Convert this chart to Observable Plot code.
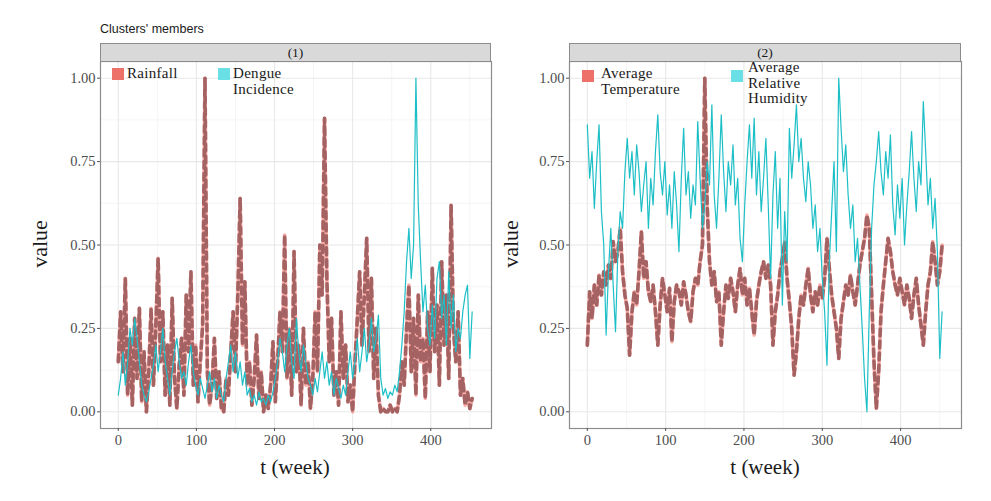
<!DOCTYPE html>
<html><head><meta charset="utf-8">
<script src="https://cdn.jsdelivr.net/npm/d3@7"></script>
<script src="https://cdn.jsdelivr.net/npm/@observablehq/plot@0.6"></script>
<style>
body{margin:0;background:#fff;}
#wrap{position:relative;width:991px;height:501px;overflow:hidden;font-family:"Liberation Serif",serif;color:#1a1a1a;}
.abs{position:absolute;}
.title{left:100px;top:22px;font-family:"Liberation Sans",Arial,sans-serif;font-size:12.5px;color:#1a1a1a;}
.strip{top:43px;height:19px;background:#d9d9d9;border:1px solid #8c8c8c;box-sizing:border-box;text-align:center;font-size:13.5px;line-height:17px;color:#1a1a1a;}
.key{width:12px;height:12px;}
.lt{font-size:15px;white-space:nowrap;color:#1a1a1a;letter-spacing:0.3px;}
.xt{top:455px;width:240px;text-align:center;font-size:21px;color:#1a1a1a;}
.yt{font-size:22px;transform:rotate(-90deg);transform-origin:center;width:80px;text-align:center;color:#1a1a1a;}
svg{position:absolute;top:0;}
</style>
</head><body>
<div id="wrap">
  <div class="abs title">Clusters' members</div>
</div>
<script>
// weeks sampled every 3 weeks
const weeks = d3.range(0, 454, 3);

const rainfall = [0.15,0.30,0.12,0.40,0.05,0.22,0.02,0.28,0.10,0.31,0.03,0.18,0.00,0.12,0.31,0.08,0.25,0.46,0.15,0.30,
0.05,0.20,0.02,0.34,0.10,0.01,0.14,0.22,0.05,0.35,0.18,0.42,0.08,0.20,0.03,0.15,0.26,1.00,0.12,0.02,
0.08,0.22,0.04,0.12,0.01,0.00,0.10,0.05,0.18,0.30,0.12,0.35,0.64,0.20,0.39,0.08,0.15,0.02,0.10,0.23,
0.04,0.12,0.00,0.05,0.01,0.08,0.21,0.03,0.15,0.30,0.18,0.53,0.10,0.25,0.05,0.48,0.12,0.20,0.02,0.25,
0.08,0.15,0.01,0.10,0.30,0.12,0.50,0.35,0.88,0.40,0.15,0.28,0.05,0.12,0.02,0.30,0.10,0.20,0.03,0.08,
0.00,0.15,0.28,0.42,0.20,0.35,0.52,0.18,0.40,0.10,0.25,0.05,0.00,0.01,0.00,0.00,0.02,0.00,0.01,0.00,
0.05,0.15,0.08,0.25,0.38,0.12,0.28,0.05,0.35,0.15,0.22,0.04,0.30,0.12,0.43,0.18,0.32,0.08,0.45,0.20,
0.35,0.10,0.62,0.25,0.15,0.30,0.05,0.10,0.02,0.06,0.01,0.04];

const dengue = [0.05,0.10,0.18,0.08,0.15,0.25,0.20,0.28,0.22,0.15,0.08,0.05,0.03,0.06,0.10,0.14,0.20,0.12,0.18,0.25,
0.15,0.10,0.05,0.12,0.18,0.22,0.15,0.10,0.12,0.08,0.15,0.20,0.12,0.08,0.05,0.10,0.07,0.04,0.08,0.12,
0.06,0.10,0.04,0.08,0.05,0.03,0.10,0.15,0.20,0.12,0.18,0.10,0.15,0.08,0.12,0.05,0.07,0.03,0.05,0.02,
0.06,0.03,0.04,0.02,0.05,0.03,0.06,0.10,0.15,0.22,0.18,0.12,0.20,0.25,0.15,0.10,0.28,0.18,0.12,0.20,
0.15,0.10,0.08,0.05,0.10,0.06,0.12,0.18,0.10,0.15,0.08,0.12,0.05,0.10,0.07,0.04,0.08,0.05,0.12,0.18,
0.10,0.15,0.22,0.12,0.18,0.25,0.15,0.20,0.28,0.18,0.22,0.29,0.10,0.05,0.07,0.04,0.06,0.05,0.08,0.06,
0.12,0.20,0.30,0.45,0.55,0.40,0.50,1.00,0.62,0.45,0.30,0.38,0.25,0.20,0.32,0.22,0.40,0.45,0.28,0.35,
0.20,0.42,0.25,0.35,0.18,0.25,0.22,0.30,0.35,0.38,0.16,0.30];

const temperature = [0.20,0.36,0.28,0.38,0.32,0.41,0.35,0.42,0.38,0.44,0.40,0.51,0.45,0.48,0.55,0.42,0.35,0.31,0.17,0.30,
0.36,0.32,0.42,0.54,0.40,0.45,0.36,0.33,0.38,0.30,0.20,0.32,0.40,0.35,0.30,0.37,0.21,0.33,0.38,0.36,
0.32,0.39,0.35,0.30,0.27,0.36,0.40,0.38,0.45,0.50,1.00,0.62,0.45,0.38,0.42,0.33,0.36,0.20,0.30,0.38,
0.34,0.40,0.36,0.30,0.38,0.43,0.35,0.40,0.32,0.37,0.30,0.23,0.33,0.38,0.42,0.45,0.40,0.44,0.38,0.20,
0.30,0.35,0.42,0.46,0.51,0.40,0.33,0.25,0.11,0.18,0.28,0.35,0.32,0.38,0.43,0.35,0.30,0.36,0.32,0.38,
0.34,0.40,0.52,0.43,0.35,0.30,0.25,0.16,0.28,0.33,0.38,0.35,0.41,0.36,0.32,0.38,0.44,0.48,0.52,0.59,
0.55,0.35,0.15,0.01,0.12,0.30,0.38,0.45,0.52,0.48,0.42,0.38,0.35,0.40,0.36,0.32,0.38,0.34,0.28,0.35,
0.40,0.32,0.26,0.20,0.30,0.38,0.42,0.51,0.45,0.38,0.42,0.50];

const humidity = [0.86,0.70,0.78,0.61,0.75,0.86,0.60,0.50,0.23,0.42,0.55,0.38,0.24,0.48,0.60,0.55,0.72,0.82,0.70,0.78,
0.65,0.80,0.72,0.60,0.68,0.75,0.55,0.70,0.62,0.78,0.89,0.72,0.65,0.75,0.59,0.68,0.55,0.72,0.62,0.48,
0.70,0.85,0.65,0.72,0.58,0.68,0.62,0.87,0.70,0.55,0.62,0.75,0.68,0.92,0.65,0.55,0.70,0.89,0.72,0.60,
0.75,0.68,0.80,0.62,0.70,0.52,0.45,0.62,0.75,0.86,0.70,0.88,0.65,0.78,0.60,0.70,0.82,0.62,0.40,0.65,
0.78,0.55,0.70,0.32,0.60,0.45,0.85,0.70,0.80,0.92,0.75,0.82,0.70,0.63,0.75,0.68,0.55,0.62,0.48,0.55,
0.40,0.30,0.14,0.45,0.60,0.75,0.48,1.00,0.85,0.72,0.80,0.65,0.55,0.62,0.45,0.52,0.38,0.25,0.10,0.00,
0.30,0.55,0.68,0.75,0.84,0.72,0.65,0.78,0.70,0.83,0.62,0.53,0.68,0.58,0.70,0.50,0.62,0.72,0.84,0.70,
0.60,0.75,0.68,0.93,0.78,0.62,0.70,0.55,0.64,0.48,0.16,0.30];

const xTicks = [0, 100, 200, 300, 400];
const xMinor = [50, 150, 250, 350, 450];
const yTicks = [0, 0.25, 0.5, 0.75, 1];
const yMinor = [0.125, 0.375, 0.625, 0.875];

const panelLabels = ["(1)", "(2)"];
const seriesNames = [["Rainfall", "Dengue\nIncidence"], ["Average\nTemperature", "Average\nRelative\nHumidity"]];

const rows = vals => vals.map((v, i) => ({t: weeks[i], v}));

const SALMON = "#F8766D", DASH = "#9a5a5c", CYAN = "#1DBFC7";

function panel(redVals, cyanVals, width, ml, mr) {
  const red = rows(redVals), cyan = rows(cyanVals);
  return Plot.plot({
    width, height: 501,
    marginLeft: ml, marginRight: mr, marginTop: 61, marginBottom: 73,
    x: {domain: [-22.75, 477.75], axis: null},
    y: {domain: [-0.05, 1.05], axis: null},
    style: {fontFamily: "Liberation Serif", fontSize: "14.5px", color: "#4d4d4d", background: "transparent", overflow: "visible"},
    marks: [
      Plot.gridX(xMinor, {stroke: "#f3f3f3", strokeOpacity: 1, strokeWidth: 0.8}),
      Plot.gridY(yMinor, {stroke: "#f3f3f3", strokeOpacity: 1, strokeWidth: 0.8}),
      Plot.gridX(xTicks, {stroke: "#e8e8e8", strokeOpacity: 1, strokeWidth: 1.1}),
      Plot.gridY(yTicks, {stroke: "#e8e8e8", strokeOpacity: 1, strokeWidth: 1.1}),
      Plot.line(red, {x: "t", y: "v", stroke: SALMON, strokeWidth: 3.6, strokeOpacity: 0.6}),
      Plot.line(red, {x: "t", y: "v", stroke: DASH, strokeWidth: 3.6, strokeOpacity: 0.9, strokeDasharray: "7,5"}),
      Plot.line(cyan, {x: "t", y: "v", stroke: CYAN, strokeWidth: 1.2}),
      Plot.frame({stroke: "#8c8c8c", strokeWidth: 1.2}),
      Plot.axisX(xTicks, {tickSize: 3, tickPadding: 3, label: null, fontSize: 14.5, stroke: "#555"}),
      Plot.axisY(yTicks, {tickSize: 3, tickPadding: 2, label: null, fontSize: 14.5, tickFormat: d3.format(".2f"), stroke: "#555"})
    ]
  });
}

const wrap = document.getElementById("wrap");
const p1 = panel(rainfall, dengue, 500, 100, 9);
p1.style.left = "0px";
wrap.appendChild(p1);
const p2 = panel(temperature, humidity, 511, 89, 30);
p2.style.left = "480px";
wrap.appendChild(p2);

function addDiv(cls, css, html) {
  const d = document.createElement("div");
  d.className = "abs " + cls;
  Object.assign(d.style, css);
  d.innerHTML = html;
  wrap.appendChild(d);
  return d;
}
// strips
addDiv("strip", {left: "100px", width: "391px"}, panelLabels[0]);
addDiv("strip", {left: "569px", width: "392px"}, panelLabels[1]);
// axis titles
addDiv("xt", {left: (295 - 120) + "px"}, "t (week)");
addDiv("xt", {left: (765 - 120) + "px"}, "t (week)");
addDiv("yt", {left: (40 - 40) + "px", top: "231px"}, "value");
addDiv("yt", {left: (511 - 40) + "px", top: "231px"}, "value");
// legends
const br = s => s.replace(/\n/g, "<br>");
addDiv("key", {left: "112px", top: "68px", background: "#EE7169"}, "");
addDiv("lt", {left: "127px", top: "65px", lineHeight: "16px"}, br(seriesNames[0][0]));
addDiv("key", {left: "218px", top: "68px", background: "#6ADFE6"}, "");
addDiv("lt", {left: "233px", top: "65px", lineHeight: "16px"}, br(seriesNames[0][1]));
addDiv("key", {left: "582px", top: "70px", background: "#EE7169"}, "");
addDiv("lt", {left: "601px", top: "65px", lineHeight: "16px"}, br(seriesNames[1][0]));
addDiv("key", {left: "731px", top: "70px", background: "#6ADFE6"}, "");
addDiv("lt", {left: "748px", top: "60px", lineHeight: "15.5px"}, br(seriesNames[1][1]));
</script>
</body></html>
